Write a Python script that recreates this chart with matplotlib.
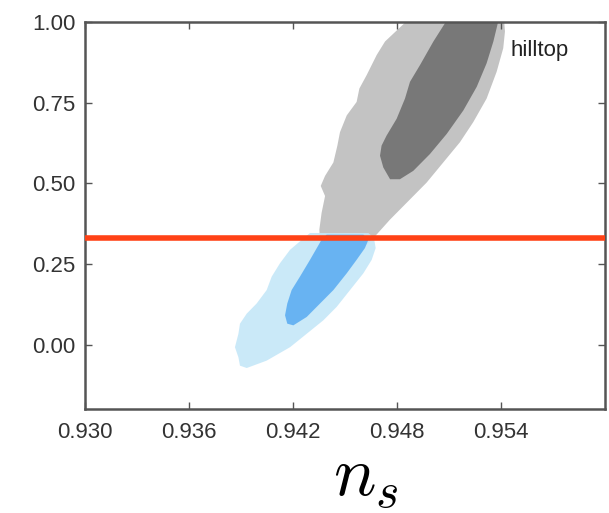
import matplotlib
matplotlib.use("Agg")
import matplotlib.pyplot as plt

# ---- data: contour outlines (n_s, r-like parameter) ----
hilltop_95_ns = [0.94875, 0.94731, 0.94683, 0.94625, 0.94583, 0.94567, 0.94510, 0.94471,
                 0.94456, 0.94433, 0.94385, 0.94360, 0.94385, 0.94365, 0.94352, 0.94356,
                 0.94413, 0.94510, 0.94606, 0.94673, 0.94760, 0.94856, 0.94971, 0.95067,
                 0.95163, 0.95240, 0.95317, 0.95375, 0.95413, 0.95423, 0.95417]
hilltop_95_y = [1.0125, 0.9396, 0.8979, 0.8354, 0.7938, 0.7521, 0.7104, 0.6583,
                0.6167, 0.5646, 0.5229, 0.4917, 0.4604, 0.4083, 0.3563, 0.3146,
                0.2833, 0.2781, 0.2990, 0.3354, 0.3875, 0.4396, 0.5021, 0.5646,
                0.6271, 0.6896, 0.7625, 0.8458, 0.9188, 0.9708, 1.0125]

hilltop_68_ns = [0.95096, 0.95010, 0.94933, 0.94875, 0.94846, 0.94798, 0.94740, 0.94711,
                 0.94702, 0.94721, 0.94760, 0.94817, 0.94894, 0.94990, 0.95087, 0.95183,
                 0.95260, 0.95317, 0.95356, 0.95389]
hilltop_68_y = [1.0125, 0.9396, 0.8667, 0.8146, 0.7625, 0.7000, 0.6479, 0.6167,
                0.5854, 0.5490, 0.5125, 0.5125, 0.5385, 0.5906, 0.6531, 0.7260,
                0.7990, 0.8719, 0.9396, 1.0125]

blue_95_ns = [0.94298, 0.94240, 0.94183, 0.94125, 0.94077, 0.94048, 0.93990, 0.93933,
              0.93894, 0.93885, 0.93865, 0.93885, 0.93894, 0.93933, 0.94048, 0.94183,
              0.94279, 0.94375, 0.94452, 0.94529, 0.94606, 0.94654, 0.94677, 0.94667,
              0.94635]
blue_95_y = [0.3458, 0.3198, 0.2938, 0.2521, 0.2104, 0.1688, 0.1271, 0.0958,
             0.0646, 0.0333, -0.0083, -0.0396, -0.0656, -0.0729, -0.0500, -0.0083,
             0.0333, 0.0750, 0.1167, 0.1688, 0.2208, 0.2625, 0.2990, 0.3302,
             0.3458]

blue_68_ns = [0.94365, 0.94298, 0.94240, 0.94192, 0.94167, 0.94154, 0.94167, 0.94202,
              0.94279, 0.94356, 0.94433, 0.94510, 0.94567, 0.94615, 0.94635, 0.94606,
              0.94394]
blue_68_y = [0.3250, 0.2625, 0.2104, 0.1688, 0.1271, 0.0906, 0.0646, 0.0594,
             0.0854, 0.1271, 0.1688, 0.2208, 0.2625, 0.2990, 0.3250, 0.3406,
             0.3406]

bound_value = 0.33
x_ticks = [0.930, 0.936, 0.942, 0.948, 0.954]
x_tick_labels = ["0.930", "0.936", "0.942", "0.948", "0.954"]
y_ticks = [0.00, 0.25, 0.50, 0.75, 1.00]
y_tick_labels = ["0.00", "0.25", "0.50", "0.75", "1.00"]
label_text = "hilltop"
x_label = r"$n_s$"

# ---- figure ----
plt.rcParams["font.family"] = ["Liberation Sans", "DejaVu Sans"]
plt.rcParams["mathtext.fontset"] = "cm"

fig = plt.figure(figsize=(6.09, 5.13), dpi=100)
ax = fig.add_axes([0.1396, 0.2027, 0.8538, 0.7544])

ax.fill(hilltop_95_ns, hilltop_95_y, color="#c3c3c3", lw=0, zorder=1)
ax.fill(hilltop_68_ns, hilltop_68_y, color="#787878", lw=0, zorder=2)
ax.fill(blue_95_ns, blue_95_y, color="#c5e7f8", alpha=0.9, lw=0, zorder=3)
ax.fill(blue_68_ns, blue_68_y, color="#5eaef2", alpha=0.9, lw=0, zorder=4)

ax.axhline(bound_value, color="#ff4216", lw=4, zorder=5)

ax.set_xlim(0.930, 0.960)
ax.set_ylim(-0.20, 1.00)
ax.set_xticks(x_ticks)
ax.set_xticklabels(x_tick_labels)
ax.set_yticks(y_ticks)
ax.set_yticklabels(y_tick_labels)

ax.tick_params(direction="in", length=5, width=1, color="#555555",
               top=True, right=True, labelsize=16, labelcolor="#333333")
ax.tick_params(axis="y", pad=7)
ax.tick_params(axis="x", pad=9)
for s in ax.spines.values():
    s.set_color("#555555")
    s.set_linewidth(1.8)

ax.text(0.95452, 0.9125, label_text, fontsize=16, color="#222222",
        ha="left", va="center", zorder=6)

fig.text(0.601, 0.034, x_label, fontsize=51, ha="center", va="baseline")

fig.savefig("out.png", dpi=100)
